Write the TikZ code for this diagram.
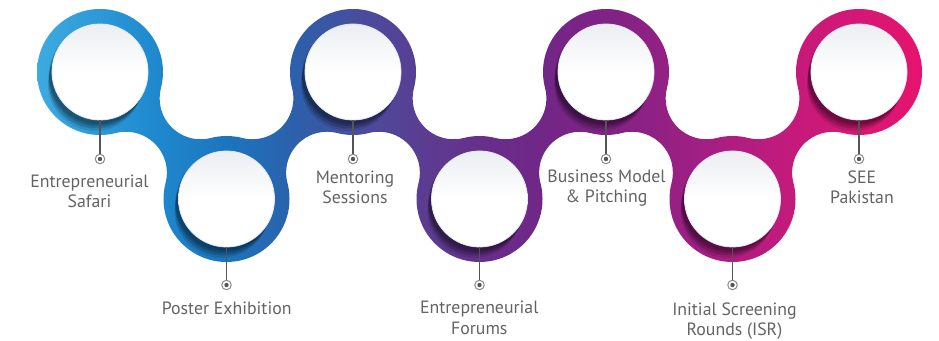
\documentclass[tikz,border=0pt]{standalone}
\usepackage{fontspec}
\setmainfont{PT Sans}
\usetikzlibrary{calc}
\definecolor{r0}{HTML}{3DABE1}
\definecolor{r1}{HTML}{1F8ACF}
\definecolor{r2}{HTML}{1C74BD}
\definecolor{r3}{HTML}{2E5EA9}
\definecolor{r4}{HTML}{4A4C9D}
\definecolor{r5}{HTML}{5C3B90}
\definecolor{r6}{HTML}{6A2B8A}
\definecolor{r7}{HTML}{752586}
\definecolor{r8}{HTML}{842284}
\definecolor{r9}{HTML}{A21F83}
\definecolor{r10}{HTML}{C01B7C}
\definecolor{r11}{HTML}{DC1673}
\definecolor{r12}{HTML}{E6136E}
\definecolor{discTop}{HTML}{EBEEF2}
\definecolor{discRim}{HTML}{E2E8EE}
\definecolor{pinGray}{HTML}{555555}
\definecolor{markRing}{HTML}{8A8A8A}
\definecolor{textGray}{HTML}{636363}
\pgfdeclarehorizontalshading{ribbon}{100bp}{color(0bp)=(r0); color(25bp)=(r0); color(31.4bp)=(r1); color(35.9bp)=(r2); color(39.9bp)=(r3); color(43.3bp)=(r4); color(47.2bp)=(r5); color(51.2bp)=(r6); color(54.6bp)=(r7); color(58bp)=(r8); color(62.5bp)=(r9); color(67bp)=(r10); color(72.7bp)=(r11); color(75bp)=(r12); color(100bp)=(r12)}
\begin{document}
\begin{tikzpicture}[x=1pt,y=1pt,
  whitedisc/.style={circle, minimum size=96pt, inner sep=0pt, top color=discTop, bottom color=white, middle color=white, draw=discRim, line width=0.8pt},
  marker/.style={circle, draw=markRing, line width=1pt, fill=white, minimum size=9.5pt, inner sep=0pt,
    path picture={\fill[pinGray] (path picture bounding box.center) circle (2.2pt);}},
  pin/.style={draw=pinGray, line width=1.3pt},
  lbl/.style={font=\fontsize{17.8}{20}\selectfont, text=textGray, align=center, anchor=base, inner sep=0pt}]
\useasboundingbox (0,0) rectangle (939,340);
% centres
\coordinate (c1) at (100,268);
\coordinate (c2) at (226.5,141);
\coordinate (c3) at (353,268);
\coordinate (c4) at (479.5,141);
\coordinate (c5) at (606,268);
\coordinate (c6) at (732.5,141);
\coordinate (c7) at (859,268);
% ribbon
\shade[shading=ribbon]
  \foreach \x/\y in {100/268,226.5/141,353/268,479.5/141,606/268,732.5/141,859/268} {
    (\x+63,\y) arc[start angle=0,end angle=360,radius=63] -- cycle }
  \foreach \a in {100,353,606} {
    (\a,268) -- ($(\a+25.88,167.27)+(104.41:41)$) arc[start angle=104.41,end angle=-14.63,radius=41]
    -- (\a+126.5,141) -- ($(\a+100.62,241.73)+(284.41:41)$) arc[start angle=284.41,end angle=165.37,radius=41] -- cycle }
  \foreach \b in {226.5,479.5,732.5} {
    (\b,141) -- ($(\b+100.62,167.27)+(194.63:41)$) arc[start angle=194.63,end angle=75.59,radius=41]
    -- (\b+126.5,268) -- ($(\b+25.88,241.73)+(14.63:41)$) arc[start angle=14.63,end angle=-104.41,radius=41] -- cycle };
% shadows
\foreach \i in {1,...,7} {
  \begin{scope}
    \clip (c\i) circle (63);
    \fill[black, opacity=0.14] ([shift={(-2,-3)}]c\i) circle (49);
    \fill[black, opacity=0.17] ([shift={(-3,-6)}]c\i) circle (48);
    \fill[black, opacity=0.17] ([shift={(-4,-9)}]c\i) circle (47.5);
    \fill[black, opacity=0.10] ([shift={(-5,-12)}]c\i) circle (47);
  \end{scope}
}
% white discs
\foreach \i in {1,...,7} { \node[whitedisc] (w\i) at (c\i) {}; }
% markers
\node[marker] (m1) at (100,181) {};
\node[marker] (m2) at (226.5,55) {};
\node[marker] (m3) at (353,181) {};
\node[marker] (m4) at (479.5,55) {};
\node[marker] (m5) at (606,181) {};
\node[marker] (m6) at (732.5,55) {};
\node[marker] (m7) at (859,181) {};
\foreach \i in {1,...,7} { \draw[pin] (w\i.south) -- (m\i.north); }
% labels (anchor = baseline of last line)
\node[lbl] (t1) at (89.5,132) {Entrepreneurial\\Safari};
\node[lbl] (t2) at (226.7,26) {Poster Exhibition};
\node[lbl] (t3) at (355,136.7) {Mentoring\\Sessions};
\node[lbl] (t4) at (479.3,6) {Entrepreneurial\\Forums};
\node[lbl] (t5) at (606.5,137) {Business Model\\\& Pitching};
\node[lbl] (t6) at (734.5,5) {Initial Screening\\Rounds (ISR)};
\node[lbl] (t7) at (862,136) {SEE\\Pakistan};
\end{tikzpicture}
\end{document}
